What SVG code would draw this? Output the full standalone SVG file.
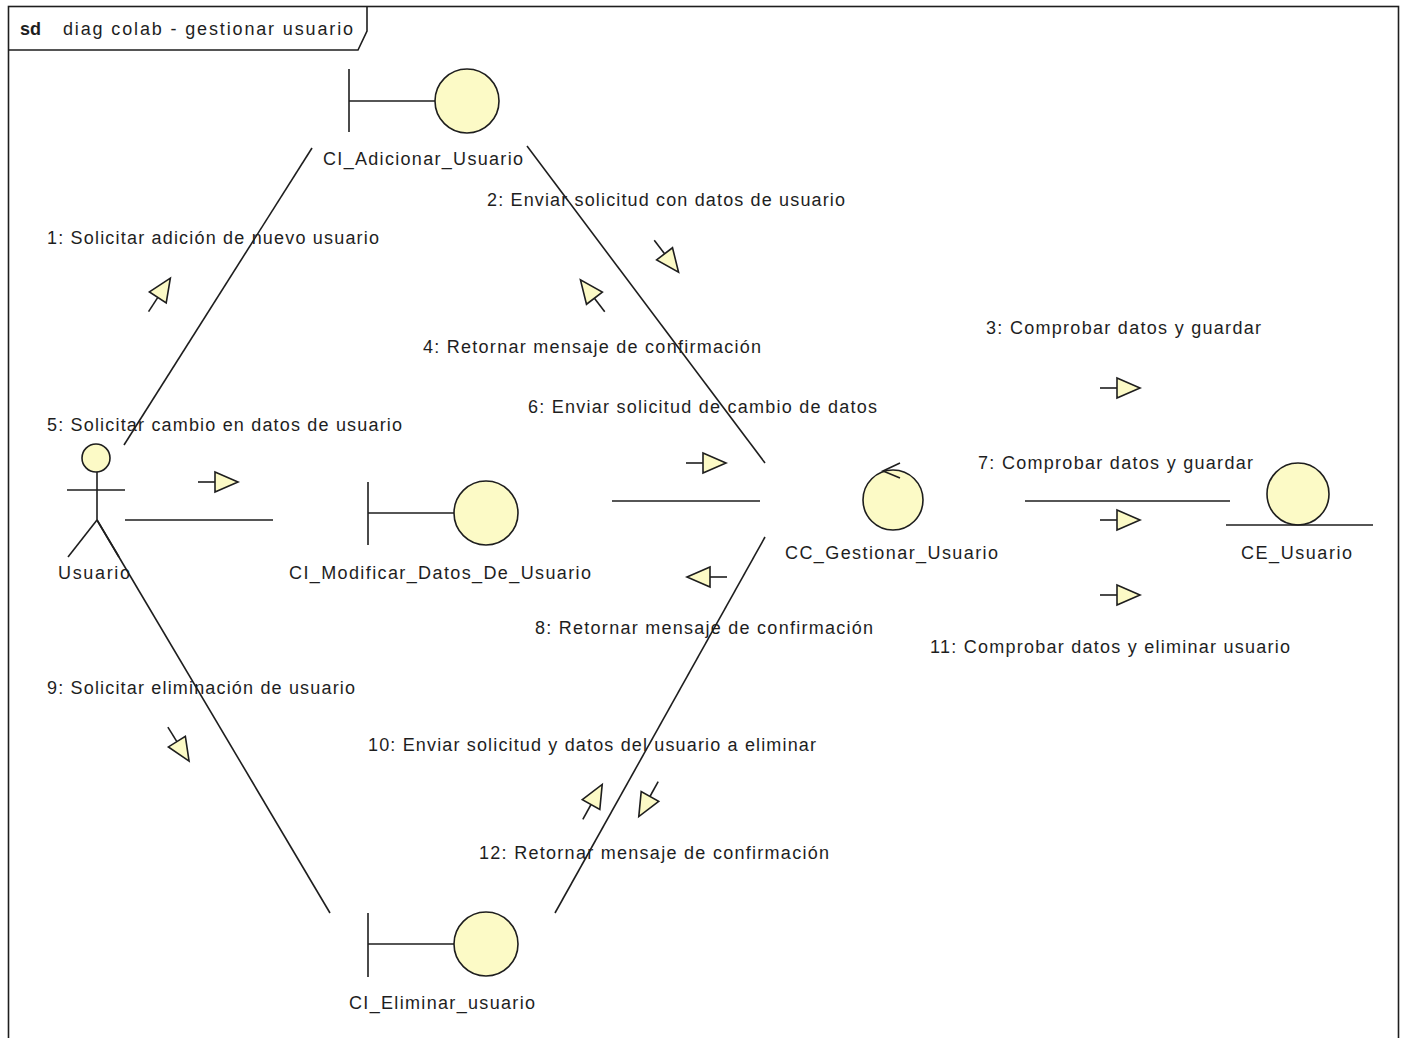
<svg xmlns="http://www.w3.org/2000/svg" xmlns:xlink="http://www.w3.org/1999/xlink" width="1405" height="1038" viewBox="0 0 1405 1038">
  <style>
    .ln { stroke: #1e1e1e; stroke-width: 1.6; fill: none; }
    .shape { stroke: #1e1e1e; stroke-width: 1.6; fill: #fcfac6; }
    .txt { font-family: "Liberation Sans", Arial, sans-serif; font-size: 18px; fill: #1e1e1e; }
    .msg line { stroke: #1e1e1e; stroke-width: 1.6; }
    .msg polygon { stroke: #1e1e1e; stroke-width: 1.6; fill: #fcfac6; stroke-linejoin: miter; }
  </style>
  <defs>
    <!-- message direction arrow: short tail + open triangle -->
    <g id="msgArrow" class="msg">
      <line x1="-21" y1="0" x2="-4" y2="0"/>
      <polygon points="-4,-10 19,0 -4,10"/>
    </g>
  </defs>

  <rect width="1405" height="1038" fill="#ffffff"/>

  <!-- frame -->
  <g id="frame">
    <rect x="8.5" y="6.5" width="1390" height="1045" class="ln"/>
    <path d="M8.5,50 H358 L367,31 V6.5" class="ln"/>
    <text x="20" y="35" class="txt" font-weight="bold">sd</text>
    <text x="63" y="35" class="txt" textLength="290" lengthAdjust="spacing">diag colab - gestionar usuario</text>
  </g>

  <!-- connectors -->
  <g id="connectors" class="ln">
    <line x1="124" y1="445" x2="312" y2="148"/>
    <line x1="527" y1="146" x2="765" y2="463"/>
    <line x1="125" y1="520" x2="273" y2="520"/>
    <line x1="612" y1="501" x2="760" y2="501"/>
    <line x1="1025" y1="501" x2="1230" y2="501"/>
    <line x1="97" y1="520" x2="330" y2="913"/>
    <line x1="555" y1="913" x2="765" y2="537"/>
  </g>

  <!-- message arrows -->
  <g id="messages">
    <use xlink:href="#msgArrow" href="#msgArrow" transform="translate(160,294) rotate(-57)"/>
    <use xlink:href="#msgArrow" href="#msgArrow" transform="translate(667,257) rotate(52.6)"/>
    <use xlink:href="#msgArrow" href="#msgArrow" transform="translate(592,295) rotate(-127.4)"/>
    <use xlink:href="#msgArrow" href="#msgArrow" transform="translate(219,482)"/>
    <use xlink:href="#msgArrow" href="#msgArrow" transform="translate(707,463)"/>
    <use xlink:href="#msgArrow" href="#msgArrow" transform="translate(706,577) rotate(180)"/>
    <use xlink:href="#msgArrow" href="#msgArrow" transform="translate(1121,388)"/>
    <use xlink:href="#msgArrow" href="#msgArrow" transform="translate(1121,520)"/>
    <use xlink:href="#msgArrow" href="#msgArrow" transform="translate(1121,595)"/>
    <use xlink:href="#msgArrow" href="#msgArrow" transform="translate(179,745) rotate(58)"/>
    <use xlink:href="#msgArrow" href="#msgArrow" transform="translate(593,801) rotate(-61)"/>
    <use xlink:href="#msgArrow" href="#msgArrow" transform="translate(648,800) rotate(119)"/>
  </g>

  <!-- message labels -->
  <g id="labels" class="txt">
    <text x="487" y="206" textLength="358" lengthAdjust="spacing">2: Enviar solicitud con datos de usuario</text>
    <text x="47" y="244" textLength="332" lengthAdjust="spacing">1: Solicitar adición de nuevo usuario</text>
    <text x="986" y="334" textLength="275" lengthAdjust="spacing">3: Comprobar datos y guardar</text>
    <text x="423" y="353" textLength="338" lengthAdjust="spacing">4: Retornar mensaje de confirmación</text>
    <text x="528" y="413" textLength="349" lengthAdjust="spacing">6: Enviar solicitud de cambio de datos</text>
    <text x="47" y="431" textLength="355" lengthAdjust="spacing">5: Solicitar cambio en datos de usuario</text>
    <text x="978" y="469" textLength="275" lengthAdjust="spacing">7: Comprobar datos y guardar</text>
    <text x="535" y="634" textLength="338" lengthAdjust="spacing">8: Retornar mensaje de confirmación</text>
    <text x="930" y="653" textLength="360" lengthAdjust="spacing">11: Comprobar datos y eliminar usuario</text>
    <text x="47" y="694" textLength="308" lengthAdjust="spacing">9: Solicitar eliminación de usuario</text>
    <text x="368" y="751" textLength="448" lengthAdjust="spacing">10: Enviar solicitud y datos del usuario a eliminar</text>
    <text x="479" y="859" textLength="350" lengthAdjust="spacing">12: Retornar mensaje de confirmación</text>
  </g>

  <!-- actor -->
  <g id="Usuario">
    <circle cx="96" cy="458" r="14" class="shape"/>
    <line x1="97" y1="472" x2="97" y2="520" class="ln"/>
    <line x1="67" y1="490" x2="125" y2="490" class="ln"/>
    <line x1="97" y1="520" x2="68" y2="557" class="ln"/>
    <line x1="97" y1="520" x2="119" y2="557" class="ln"/>
    <text x="58" y="579" class="txt" textLength="72" lengthAdjust="spacing">Usuario</text>
  </g>

  <!-- boundary: CI_Adicionar_Usuario -->
  <g id="CI_Adicionar_Usuario">
    <line x1="349" y1="69" x2="349" y2="132" class="ln"/>
    <line x1="349" y1="101" x2="435" y2="101" class="ln"/>
    <circle cx="467" cy="101" r="32" class="shape"/>
    <text x="323" y="165" class="txt" textLength="200" lengthAdjust="spacing">CI_Adicionar_Usuario</text>
  </g>

  <!-- boundary: CI_Modificar_Datos_De_Usuario -->
  <g id="CI_Modificar_Datos_De_Usuario">
    <line x1="368" y1="482" x2="368" y2="545" class="ln"/>
    <line x1="368" y1="513" x2="454" y2="513" class="ln"/>
    <circle cx="486" cy="513" r="32" class="shape"/>
    <text x="289" y="579" class="txt" textLength="302" lengthAdjust="spacing">CI_Modificar_Datos_De_Usuario</text>
  </g>

  <!-- boundary: CI_Eliminar_usuario -->
  <g id="CI_Eliminar_usuario">
    <line x1="368" y1="913" x2="368" y2="977" class="ln"/>
    <line x1="368" y1="944" x2="454" y2="944" class="ln"/>
    <circle cx="486" cy="944" r="32" class="shape"/>
    <text x="349" y="1009" class="txt" textLength="186" lengthAdjust="spacing">CI_Eliminar_usuario</text>
  </g>

  <!-- control: CC_Gestionar_Usuario -->
  <g id="CC_Gestionar_Usuario">
    <circle cx="893" cy="500" r="30" class="shape"/>
    <polyline points="900,463 883,471 900,478" class="ln"/>
    <text x="785" y="559" class="txt" textLength="213" lengthAdjust="spacing">CC_Gestionar_Usuario</text>
  </g>

  <!-- entity: CE_Usuario -->
  <g id="CE_Usuario">
    <circle cx="1298" cy="494" r="31" class="shape"/>
    <line x1="1226" y1="525" x2="1373" y2="525" class="ln"/>
    <text x="1241" y="559" class="txt" textLength="111" lengthAdjust="spacing">CE_Usuario</text>
  </g>
</svg>
